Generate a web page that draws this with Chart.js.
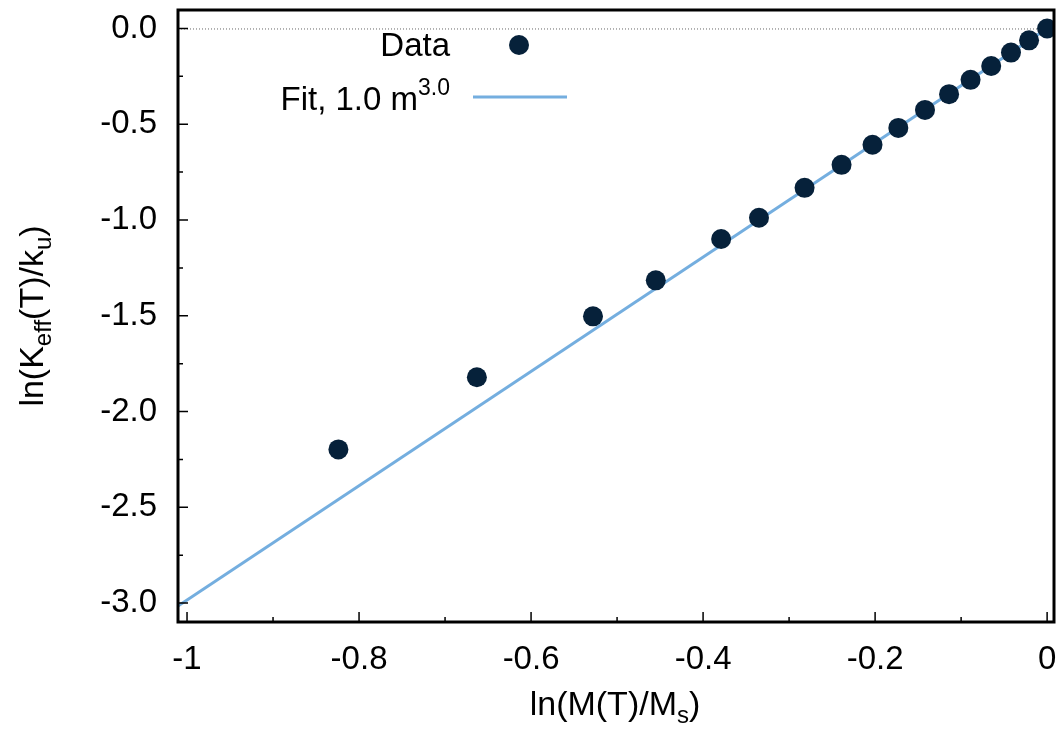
<!DOCTYPE html>
<html>
<head>
<meta charset="utf-8">
<script src="https://cdn.jsdelivr.net/npm/chart.js@4"></script>
<style>
  html, body { margin: 0; padding: 0; background: #fff; }
  canvas { display: block; }
</style>
</head>
<body>
<canvas id="kChart" width="1064" height="731"></canvas>
<script>
// measured data: ln(M(T)/Ms) vs ln(Keff(T)/ku)
const lnM = [-0.824, -0.663, -0.528, -0.455, -0.379, -0.335, -0.282, -0.239, -0.203,
             -0.173, -0.142, -0.114, -0.089, -0.065, -0.042, -0.021, 0.0];
const lnK = [-2.198, -1.821, -1.503, -1.315, -1.099, -0.988, -0.832, -0.712, -0.607,
             -0.519, -0.425, -0.343, -0.268, -0.196, -0.126, -0.062, 0.0];

// fit line end points, 1.0 m^3.0
const fitX = [-1.0105, 0.0];
const fitY = [-3.016, 0.0];

// axis ticks
const xMajor = [-1, -0.8, -0.6, -0.4, -0.2, 0];
const xMinor = [-0.9, -0.7, -0.5, -0.3, -0.1];
const xLabels = ["-1", "-0.8", "-0.6", "-0.4", "-0.2", "0"];
const yMajor = [0, -0.5, -1, -1.5, -2, -2.5, -3];
const yMinor = [-0.25, -0.75, -1.25, -1.75, -2.25, -2.75];
const yLabels = ["0.0", "-0.5", "-1.0", "-1.5", "-2.0", "-2.5", "-3.0"];

const FONT = '"Liberation Sans", Arial, Helvetica, sans-serif';
const dotColor = "#06213a";
const fitColor = "#74aedf";

Chart.defaults.font.family = FONT;
Chart.defaults.color = "#000";

// draw text with sub/superscripts
function drawRich(ctx, parts, x, y, align) {
  let w = 0;
  parts.forEach(p => {
    ctx.font = p.size + "px " + FONT;
    p.w = ctx.measureText(p.t).width;
    w += p.w;
  });
  let cx = align === "right" ? x - w : x - w / 2;
  ctx.textAlign = "left";
  ctx.textBaseline = "alphabetic";
  parts.forEach(p => {
    ctx.font = p.size + "px " + FONT;
    ctx.fillText(p.t, cx, y + (p.dy || 0));
    cx += p.w;
  });
}

const framePlugin = {
  id: "frame",
  beforeDatasetsDraw(chart) {
    const { ctx, chartArea: a, scales } = chart;
    const y0 = scales.y.getPixelForValue(0);
    ctx.save();
    ctx.strokeStyle = "#666";
    ctx.lineWidth = 1;
    ctx.setLineDash([1, 2]);
    ctx.beginPath();
    ctx.moveTo(a.left, y0 + 0.5);
    ctx.lineTo(a.right, y0 + 0.5);
    ctx.stroke();
    ctx.restore();
  },
  afterDraw(chart) {
    const { ctx, chartArea: a, scales } = chart;
    ctx.save();
    ctx.strokeStyle = "#000";

    // inward ticks on bottom and left
    ctx.lineWidth = 1.5;
    ctx.beginPath();
    xMajor.forEach(v => {
      const px = scales.x.getPixelForValue(v);
      ctx.moveTo(px, a.bottom); ctx.lineTo(px, a.bottom - 10);
    });
    xMinor.forEach(v => {
      const px = scales.x.getPixelForValue(v);
      ctx.moveTo(px, a.bottom); ctx.lineTo(px, a.bottom - 5);
    });
    yMajor.forEach(v => {
      const py = scales.y.getPixelForValue(v);
      ctx.moveTo(a.left, py); ctx.lineTo(a.left + 10, py);
    });
    yMinor.forEach(v => {
      const py = scales.y.getPixelForValue(v);
      ctx.moveTo(a.left, py); ctx.lineTo(a.left + 5, py);
    });
    ctx.stroke();

    // frame
    ctx.lineWidth = 3;
    ctx.strokeRect(a.left, a.top, a.right - a.left, a.bottom - a.top);

    // legend
    ctx.fillStyle = "#000";
    drawRich(ctx, [{ t: "Data", size: 33 }], 450, 56, "right");
    drawRich(ctx, [{ t: "Fit, 1.0 m", size: 33 }, { t: "3.0", size: 23, dy: -15 }], 450, 110, "right");
    ctx.fillStyle = dotColor;
    ctx.beginPath();
    ctx.arc(519, 45, 10, 0, Math.PI * 2);
    ctx.fill();
    ctx.strokeStyle = fitColor;
    ctx.lineWidth = 3;
    ctx.beginPath();
    ctx.moveTo(473, 97);
    ctx.lineTo(567, 97);
    ctx.stroke();

    // axis titles
    ctx.fillStyle = "#000";
    drawRich(ctx, [
      { t: "ln(M(T)/M", size: 34 },
      { t: "s", size: 24, dy: 8 },
      { t: ")", size: 34 }
    ], 615, 715, "center");

    ctx.translate(43, 316);
    ctx.rotate(-Math.PI / 2);
    drawRich(ctx, [
      { t: "ln(K", size: 34 },
      { t: "eff", size: 24, dy: 8 },
      { t: "(T)/k", size: 34 },
      { t: "u", size: 24, dy: 8 },
      { t: ")", size: 34 }
    ], 0, 0, "center");
    ctx.restore();
  }
};

const ctx = document.getElementById("kChart").getContext("2d");

new Chart(ctx, {
  type: "scatter",
  data: {
    datasets: [
      {
        label: "Fit, 1.0 m^3.0",
        data: fitX.map((x, i) => ({ x: x, y: fitY[i] })),
        showLine: true,
        borderColor: fitColor,
        borderWidth: 3,
        pointRadius: 0,
        clip: 0,
        order: 2
      },
      {
        label: "Data",
        data: lnM.map((x, i) => ({ x: x, y: lnK[i] })),
        backgroundColor: dotColor,
        borderColor: dotColor,
        borderWidth: 0,
        pointRadius: 10,
        clip: 0,
        order: 1
      }
    ]
  },
  options: {
    responsive: false,
    animation: false,
    layout: { padding: { top: 9, right: 10, left: 0, bottom: 0 } },
    plugins: {
      legend: { display: false },
      tooltip: { enabled: false }
    },
    scales: {
      x: {
        type: "linear",
        min: -1.0105,
        max: 0.008,
        afterFit: s => {
          s.height = 109;
          s.paddingLeft = 0;
          s.paddingRight = 0;
        },
        afterBuildTicks: s => { s.ticks = xMajor.map(v => ({ value: v })); },
        grid: { display: false, drawTicks: false },
        border: { display: false },
        ticks: {
          padding: 18,
          maxRotation: 0,
          font: { size: 33 },
          color: "#000",
          callback: v => xLabels[xMajor.indexOf(v)]
        }
      },
      y: {
        type: "linear",
        min: -3.099,
        max: 0.0965,
        afterFit: s => {
          s.width = 178;
          s.paddingTop = 0;
          s.paddingBottom = 0;
        },
        afterBuildTicks: s => { s.ticks = yMajor.map(v => ({ value: v })); },
        grid: { display: false, drawTicks: false },
        border: { display: false },
        ticks: {
          padding: 21,
          font: { size: 33 },
          color: "#000",
          callback: v => yLabels[yMajor.indexOf(v)]
        }
      }
    }
  },
  plugins: [framePlugin]
});
</script>
</body>
</html>
